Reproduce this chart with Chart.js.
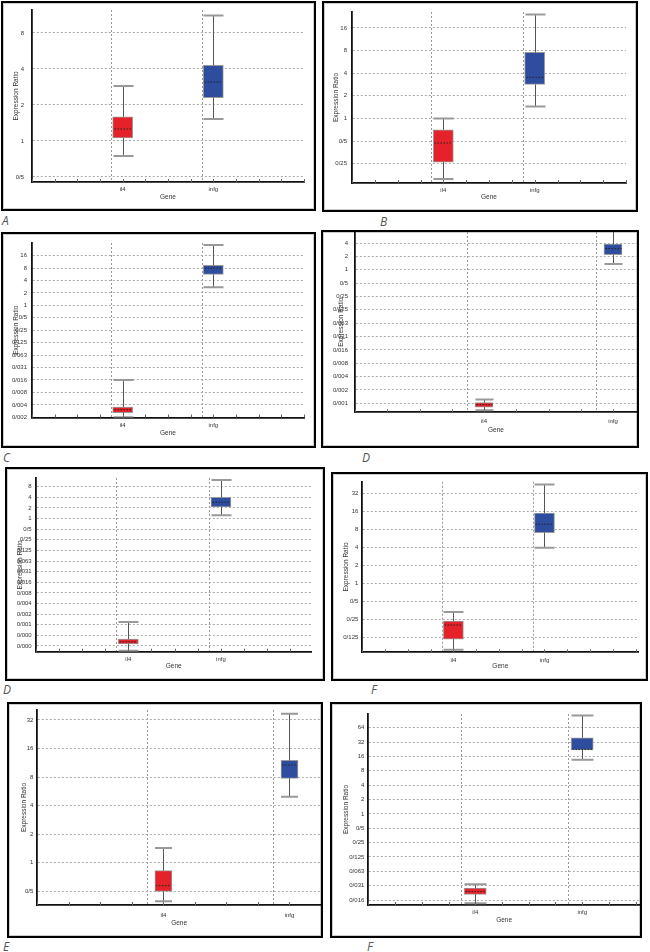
<!DOCTYPE html>
<html>
<head>
<meta charset="utf-8">
<script src="https://cdn.jsdelivr.net/npm/chart.js@4/dist/chart.umd.min.js"></script>
<style>
    body { margin: 0; width: 650px; height: 952px; position: relative; overflow: hidden; background: #fff; }
    .frame { position: absolute; box-sizing: border-box; border: 2px solid #000; box-shadow: inset 0 0 0 1px #ccc; background: #fff; }
    .frame canvas { position: absolute; left: 0; top: 0; }
    .cap { position: absolute; font: italic 12px 'Open Sans', sans-serif; line-height: 1; color: #555; }
</style>
</head>
<body>
<script>
// genes on the x axis
const genes = ['il4', 'infg'];
// panel letters, in page order: top-left, top-right, ...
const panelLetters = ['A', 'B', 'C', 'D', 'D', 'F', 'E', 'F'];

// box-plot statistics (expression ratio) per panel, same order as panelLetters
const il4Low    = [0.75, 0.156, 0.00195, 0.00068, 0.00018, 0.077, 0.39, 0.0134];
const il4Q1     = [1.06, 0.262, 0.00252, 0.00080, 0.00028, 0.116, 0.495, 0.0206];
const il4Median = [1.26, 0.47, 0.00298, 0.00091, 0.00032, 0.20, 0.57, 0.0235];
const il4Q3     = [1.59, 0.707, 0.00345, 0.00101, 0.00038, 0.234, 0.82, 0.0277];
const il4High   = [2.88, 1.0, 0.0156, 0.00119, 0.00117, 0.33, 1.42, 0.0335];

const infgLow    = [1.53, 1.44, 2.73, 1.34, 1.24, 3.94, 4.95, 13.6];
const infgQ1     = [2.30, 2.84, 5.66, 2.17, 2.13, 7.0, 7.73, 22];
const infgMedian = [3.11, 3.52, 8.0, 3.0, 2.9, 9.7, 10.7, 22.5];
const infgQ3     = [4.29, 7.57, 9.37, 3.78, 4.0, 15, 12.0, 39.3];
const infgHigh   = [11.2, 24.1, 29, 10, 12.3, 45, 37.3, 115];

// y tick values (log2 axis) per panel
const ticksA = [0.5, 1, 2, 4, 8];
const ticksB = [0.25, 0.5, 1, 2, 4, 8, 16];
const ticksC = [0.001953125, 0.00390625, 0.0078125, 0.015625, 0.03125, 0.0625, 0.125, 0.25, 0.5, 1, 2, 4, 8, 16];
const ticksD1 = [0.0009765625, 0.001953125, 0.00390625, 0.0078125, 0.015625, 0.03125, 0.0625, 0.125, 0.25, 0.5, 1, 2, 4];
const ticksD2 = [0.000244140625, 0.00048828125, 0.0009765625, 0.001953125, 0.00390625, 0.0078125, 0.015625, 0.03125, 0.0625, 0.125, 0.25, 0.5, 1, 2, 4, 8];
const ticksF1 = [0.125, 0.25, 0.5, 1, 2, 4, 8, 16, 32];
const ticksE = [0.5, 1, 2, 4, 8, 16, 32];
const ticksF2 = [0.015625, 0.03125, 0.0625, 0.125, 0.25, 0.5, 1, 2, 4, 8, 16, 32, 64];
const panelTicks = [ticksA, ticksB, ticksC, ticksD1, ticksD2, ticksF1, ticksE, ticksF2];

// page layout: frame box, plot box, axis ranges and text placement
const layout = [
    { frame: [1, 1, 316, 211], plot: [32, 10, 304, 182], yMin: 0.454, yMax: 12.45, xMax: 3, box: 20, yTitleX: 16, geneY: 197, xLab: 7, yPad: 8, cap: [2, 215] },
    { frame: [322, 1, 638, 212], plot: [352, 12, 626, 183], yMin: 0.138, yMax: 26.1, xMax: 3, box: 20, yTitleX: 336, geneY: 197, xLab: 7.7, yPad: 5, cap: [380, 216] },
    { frame: [1, 232, 316, 448], plot: [32, 243, 304, 417.5], yMin: 0.00193, yMax: 32.4, xMax: 3, box: 20, yTitleX: 16, geneY: 433, xLab: 8, yPad: 5, cap: [3, 452] },
    { frame: [321, 230, 639, 448], plot: [355, 232, 637, 412.3], yMin: 0.000613, yMax: 7.08, xMax: 2.186, box: 18, yTitleX: 341, geneY: 430, xLab: 9, yPad: 7, cap: [362, 452] },
    { frame: [5, 467, 325, 681], plot: [35.7, 478, 311.7, 651.7], yMin: 0.000168, yMax: 14.1, xMax: 2.98, box: 20, yTitleX: 20.7, geneY: 666.7, xLab: 7.6, yPad: 4, cap: [3, 684] },
    { frame: [331, 472, 648, 681], plot: [362.3, 481.7, 638.3, 652.3], yMin: 0.07, yMax: 50, xMax: 3.03, box: 20, yTitleX: 346, geneY: 666.7, xLab: 7.7, yPad: 4, cap: [371, 684] },
    { frame: [7, 702, 323, 938], plot: [37.3, 710, 321, 905], yMin: 0.356, yMax: 40.8, xMax: 2.25, box: 17, yTitleX: 24, geneY: 923.3, xLab: 10, yPad: 4, cap: [3, 941] },
    { frame: [330, 702, 642, 938], plot: [368.3, 714, 640, 905], yMin: 0.0123, yMax: 124, xMax: 2.54, box: 22, yTitleX: 346.7, geneY: 920.7, xLab: 7.7, yPad: 4, cap: [367, 941] }
];

const fontFamily = "'Liberation Sans', Arial, sans-serif";

// 0.0625 -> "0/063", 0.5 -> "0/5"
function ratioLabel(v) {
    if (v >= 1) return String(v);
    let d = v.toFixed(3).slice(2);
    if (/[1-9]/.test(d)) d = d.replace(/0+$/, '');
    return '0/' + d;
}

// whiskers, caps, median line and small x ticks
const boxPlot = {
    id: 'boxPlot',
    afterDatasetsDraw(chart) {
        const { ctx, chartArea: a, scales } = chart;
        const ds = chart.data.datasets[0];
        const meta = chart.getDatasetMeta(0);
        ctx.save();
        ctx.beginPath();
        ctx.rect(a.left, a.top, a.right - a.left, a.bottom - a.top);
        ctx.clip();
        meta.data.forEach(function(bar, j) {
            const x = Math.round(bar.x) + 0.5;
            const half = bar.width / 2;
            const yHigh = scales.y.getPixelForValue(ds.high[j]);
            const yLow = scales.y.getPixelForValue(ds.low[j]);
            const yQ1 = scales.y.getPixelForValue(ds.data[j].y[0]);
            const yQ3 = scales.y.getPixelForValue(ds.data[j].y[1]);
            const yMed = scales.y.getPixelForValue(ds.median[j]);

            ctx.strokeStyle = '#555';
            ctx.lineWidth = 1;
            ctx.beginPath();
            ctx.moveTo(x, yHigh); ctx.lineTo(x, yQ3);
            ctx.moveTo(x, yQ1); ctx.lineTo(x, yLow);
            ctx.stroke();

            ctx.strokeStyle = '#999';
            ctx.lineWidth = 2;
            ctx.beginPath();
            ctx.moveTo(x - half, yHigh); ctx.lineTo(x + half, yHigh);
            ctx.moveTo(x - half, yLow); ctx.lineTo(x + half, yLow);
            ctx.stroke();

            ctx.strokeStyle = '#222';
            ctx.lineWidth = 1;
            ctx.setLineDash([1.5, 1.5]);
            ctx.beginPath();
            ctx.moveTo(x - half + 1, yMed); ctx.lineTo(x + half - 1, yMed);
            ctx.stroke();
            ctx.setLineDash([]);
        });
        ctx.restore();
    },
    afterDraw(chart) {
        const { ctx, chartArea: a, scales } = chart;
        ctx.save();
        ctx.strokeStyle = '#666';
        ctx.lineWidth = 1;
        ctx.beginPath();
        scales.x.ticks.forEach(function(t) {
            const px = Math.round(scales.x.getPixelForValue(t.value)) + 0.5;
            ctx.moveTo(px, a.bottom);
            ctx.lineTo(px, a.bottom - 3);
        });
        ctx.stroke();
        ctx.restore();
    }
};

function makePanel(i) {
    const L = layout[i];
    const fw = L.frame[2] - L.frame[0];
    const fh = L.frame[3] - L.frame[1];
    const frame = document.createElement('div');
    frame.className = 'frame';
    frame.style.left = L.frame[0] + 'px';
    frame.style.top = L.frame[1] + 'px';
    frame.style.width = fw + 'px';
    frame.style.height = fh + 'px';
    const cw = fw - 4, ch = fh - 4;
    const canvas = document.createElement('canvas');
    canvas.width = cw; canvas.height = ch;
    canvas.style.width = cw + 'px'; canvas.style.height = ch + 'px';
    frame.appendChild(canvas);
    document.body.appendChild(frame);

    const cap = document.createElement('div');
    cap.className = 'cap';
    cap.textContent = panelLetters[i];
    cap.style.left = L.cap[0] + 'px';
    cap.style.top = L.cap[1] + 'px';
    document.body.appendChild(cap);

    const ox = L.frame[0] + 2, oy = L.frame[1] + 2;
    const yAxisW = L.plot[0] - ox;
    const xAxisH = oy + ch - L.plot[3];
    const tickFont = { family: fontFamily, size: 6 };
    const titleFont = { family: fontFamily, size: 6.5 };
    const titleLH = 6.5 * 1.2;
    const xTicks = [];
    for (let v = 0; v <= L.xMax + 1e-9; v += 0.25) xTicks.push(v);
    const yTicks = panelTicks[i];

    new Chart(canvas, {
        type: 'bar',
        data: {
            datasets: [{
                data: [
                    { x: 1, y: [il4Q1[i], il4Q3[i]] },
                    { x: 2, y: [infgQ1[i], infgQ3[i]] }
                ],
                low: [il4Low[i], infgLow[i]],
                high: [il4High[i], infgHigh[i]],
                median: [il4Median[i], infgMedian[i]],
                backgroundColor: ['#e52229', '#2e4d9f'],
                borderColor: '#9a9a9a',
                borderWidth: 1,
                borderSkipped: false,
                barThickness: L.box
            }]
        },
        options: {
            responsive: false,
            animation: false,
            devicePixelRatio: 1,
            layout: { padding: { top: L.plot[1] - oy, right: ox + cw - L.plot[2], left: 0, bottom: 0 } },
            plugins: { legend: { display: false }, tooltip: { enabled: false } },
            scales: {
                x: {
                    type: 'linear',
                    min: 0,
                    max: L.xMax,
                    bounds: 'data',
                    offset: false,
                    afterBuildTicks: function(ax) { ax.ticks = xTicks.map(v => ({ value: v })); },
                    afterFit: function(ax) { ax.height = xAxisH; ax.paddingLeft = 0; ax.paddingRight = 0; },
                    border: { color: '#111', width: 1.8, dash: [2, 2] },
                    grid: {
                        drawTicks: false,
                        lineWidth: 1,
                        color: ctx => (ctx.tick && (ctx.tick.value === 1 || ctx.tick.value === 2)) ? '#999' : 'rgba(0,0,0,0)'
                    },
                    ticks: {
                        autoSkip: false,
                        maxRotation: 0,
                        padding: L.xLab - 3.6,
                        font: tickFont,
                        color: '#333',
                        callback: v => v === 1 ? genes[0] : (v === 2 ? genes[1] : '')
                    },
                    title: {
                        display: true,
                        text: 'Gene',
                        font: titleFont,
                        color: '#333',
                        padding: { top: 0, bottom: (oy + ch - L.geneY) - titleLH / 2 }
                    }
                },
                y: {
                    type: 'logarithmic',
                    min: L.yMin,
                    max: L.yMax,
                    bounds: 'data',
                    afterBuildTicks: function(ax) { ax.ticks = yTicks.map(v => ({ value: v })); },
                    afterFit: function(ax) { ax.width = yAxisW; ax.paddingTop = 0; ax.paddingBottom = 0; },
                    border: { color: '#111', width: 1.8, dash: [2, 2] },
                    grid: { drawTicks: false, color: '#aaa', lineWidth: 1 },
                    ticks: {
                        autoSkip: false,
                        padding: L.yPad,
                        font: tickFont,
                        color: '#333',
                        callback: v => ratioLabel(v)
                    },
                    title: {
                        display: true,
                        text: 'Expression Ratio',
                        font: titleFont,
                        color: '#333',
                        padding: { top: (L.yTitleX - ox) - titleLH / 2, bottom: 0 }
                    }
                }
            }
        },
        plugins: [boxPlot]
    });
}

for (let i = 0; i < layout.length; i++) makePanel(i);
</script>
</body>
</html>
